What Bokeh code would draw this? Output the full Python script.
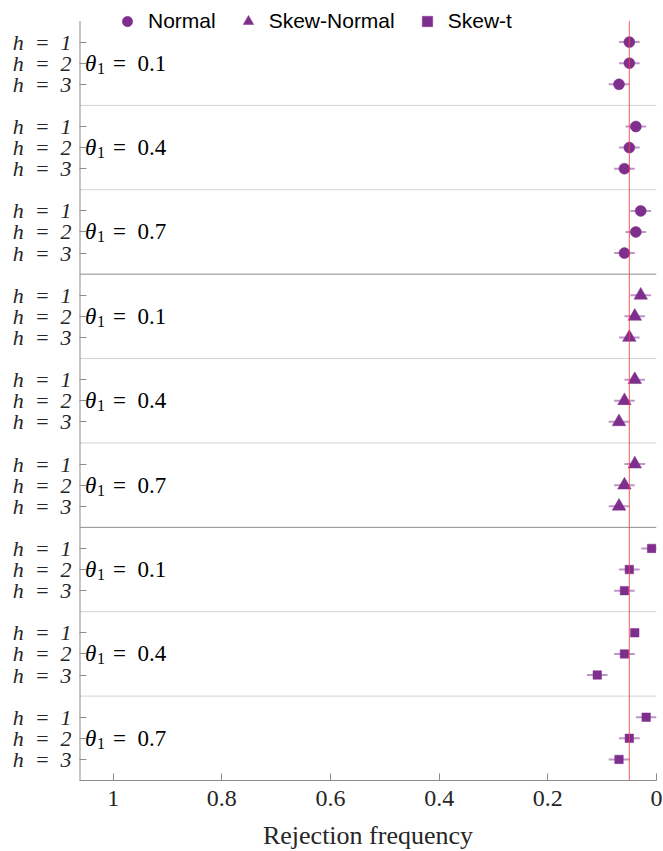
from bokeh.plotting import figure
from bokeh.models import Range1d, FixedTicker, Span, Legend, LegendItem, ColumnDataSource
from bokeh.core.properties import value
from bokeh.embed import file_html
from bokeh.resources import INLINE

# ---- data ----
distributions = ["Normal", "Skew-Normal", "Skew-t"]
markers = ["circle", "triangle", "square"]
theta_values = ["0.1", "0.4", "0.7"]
h_values = ["1", "2", "3"]

# rejection frequencies, order: theta 0.1 (h=1,2,3), theta 0.4 (h=1,2,3), theta 0.7 (h=1,2,3)
normal = [0.050, 0.050, 0.069, 0.038, 0.050, 0.059, 0.029, 0.038, 0.059]
skew_normal = [0.029, 0.040, 0.050, 0.040, 0.059, 0.069, 0.040, 0.059, 0.069]
skew_t = [0.009, 0.050, 0.059, 0.040, 0.059, 0.109, 0.019, 0.050, 0.069]

# half-widths of the horizontal error bars
normal_err = [0.019, 0.019, 0.019, 0.019, 0.019, 0.019, 0.019, 0.019, 0.019]
skew_normal_err = [0.019, 0.019, 0.019, 0.019, 0.019, 0.019, 0.019, 0.019, 0.019]
skew_t_err = [0.019, 0.019, 0.019, 0.000, 0.019, 0.019, 0.019, 0.019, 0.019]

nominal_level = 0.05
x_ticks = [0, 0.2, 0.4, 0.6, 0.8, 1]
x_tick_labels = ["0", "0.2", "0.4", "0.6", "0.8", "1"]

series = [normal, skew_normal, skew_t]
errors = [normal_err, skew_normal_err, skew_t_err]

PURPLE = "#7E2F8E"
SERIF = "Liberation Serif"
SANS = "Liberation Sans"
SP = "\u2002"
AXIS_GRAY = "#8c8c8c"

n_groups = len(distributions) * len(theta_values)
rows_per_group = len(h_values) + 1
n_units = n_groups * rows_per_group
X_LEFT = 1.062

p = figure(
    frame_width=577, frame_height=778,
    x_range=Range1d(X_LEFT, 0), y_range=Range1d(n_units, -0.877),
    output_backend="svg", toolbar_location=None,
    min_border_left=79, min_border_top=2, min_border_right=7, min_border_bottom=71,
)
p.outline_line_color = None
p.xgrid.visible = False
p.ygrid.visible = False
p.background_fill_color = "white"
p.border_fill_color = "white"

# separators between groups
for g in range(1, n_groups):
    dark = (g % len(theta_values) == 0)
    p.add_layout(Span(location=g * rows_per_group, dimension="width",
                      line_color=AXIS_GRAY if dark else "#d2d2d2", line_width=1,
                      level="underlay"))

# y axis line (from the top of the first group to the bottom)
p.segment(x0=[X_LEFT], x1=[X_LEFT], y0=[0], y1=[n_units], line_color=AXIS_GRAY, line_width=2)

legend_items = []
for d, (name, mk, vals, errs) in enumerate(zip(distributions, markers, series, errors)):
    ys, xs, lo, hi = [], [], [], []
    for t in range(len(theta_values)):
        for h in range(len(h_values)):
            i = t * len(h_values) + h
            g = d * len(theta_values) + t
            ys.append(g * rows_per_group + h + 1)
            xs.append(vals[i])
            lo.append(vals[i] - errs[i])
            hi.append(vals[i] + errs[i])
    src = ColumnDataSource(dict(x=xs, y=ys, lo=lo, hi=hi))
    p.segment(x0="lo", x1="hi", y0="y", y1="y", source=src,
              line_color=PURPLE, line_alpha=0.5, line_width=2)
    size = {"circle": 11, "triangle": 13.5, "square": 8.5}[mk]
    r = p.scatter(x="x", y="y", source=src, marker=mk, size=size,
                  fill_color=PURPLE, line_color=PURPLE, line_width=0.5)
    legend_items.append(LegendItem(label=name, renderers=[r]))

# theta labels
th_y, th_txt = [], []
for d in range(len(distributions)):
    for t, tv in enumerate(theta_values):
        g = d * len(theta_values) + t
        th_y.append(g * rows_per_group + 2)
        th_txt.append("=" + SP + tv)
th_src = ColumnDataSource(dict(x=[1.052] * len(th_y), y=th_y, eq=th_txt,
                               th=["θ"] * len(th_y), sub=["1"] * len(th_y)))
p.text(x="x", y="y", text="th", source=th_src, text_font=value(SERIF),
       text_font_style="italic", text_font_size="23px", text_baseline="middle",
       text_align="left", text_color="black")
p.text(x="x", y="y", text="sub", source=th_src, text_font=value(SERIF),
       text_font_size="16px", text_baseline="middle", text_align="left",
       text_color="black", x_offset=12, y_offset=5)
p.text(x="x", y="y", text="eq", source=th_src, text_font=value(SERIF),
       text_font_size="23px", text_baseline="middle", text_align="left",
       text_color="black", x_offset=28)

# red nominal line (drawn over the markers)
p.segment(x0=[nominal_level], x1=[nominal_level], y0=[0], y1=[n_units],
          line_color="#ff4040", line_alpha=0.85, line_width=1)

# axes
p.xaxis.ticker = FixedTicker(ticks=x_ticks)
p.xaxis.major_label_overrides = {t: l for t, l in zip(x_ticks, x_tick_labels)}
p.xaxis.axis_label = "Rejection frequency"
p.xaxis.axis_label_text_font = SERIF
p.xaxis.axis_label_text_font_style = "normal"
p.xaxis.axis_label_text_font_size = "26px"
p.xaxis.axis_label_text_color = "#262626"
p.xaxis.axis_label_standoff = 12
p.xaxis.major_label_text_font = SERIF
p.xaxis.major_label_text_font_size = "24px"
p.xaxis.major_label_text_color = "#262626"
p.xaxis.major_label_standoff = 10
p.xaxis.major_tick_in = 7
p.xaxis.major_tick_out = 0
p.xaxis.minor_tick_line_color = None
p.xaxis.axis_line_color = AXIS_GRAY
p.xaxis.major_tick_line_color = AXIS_GRAY

y_ticks, y_labels = [], []
for g in range(n_groups):
    for h, hv in enumerate(h_values):
        y_ticks.append(g * rows_per_group + h + 1)
        y_labels.append("h" + SP + "=" + SP + hv)
p.yaxis.ticker = FixedTicker(ticks=y_ticks)
p.yaxis.major_label_overrides = {t: l for t, l in zip(y_ticks, y_labels)}
p.yaxis.major_label_text_font = SERIF
p.yaxis.major_label_text_font_style = "italic"
p.yaxis.major_label_text_font_size = "22px"
p.yaxis.major_label_text_color = "#262626"
p.yaxis.major_label_standoff = 8
p.yaxis.major_tick_in = 7
p.yaxis.major_tick_out = 0
p.yaxis.minor_tick_line_color = None
p.yaxis.axis_line_color = None
p.yaxis.major_tick_line_color = AXIS_GRAY

legend = Legend(items=legend_items, orientation="horizontal", location=(35, 746),
                glyph_width=26, glyph_height=26, label_height=20,
                label_standoff=8, spacing=19, padding=0, margin=0,
                label_text_font=SANS, label_text_font_size="21px",
                label_text_color="black",
                background_fill_alpha=0, border_line_color=None)
p.add_layout(legend, "center")

open("out.html", "w").write(file_html(p, INLINE))
